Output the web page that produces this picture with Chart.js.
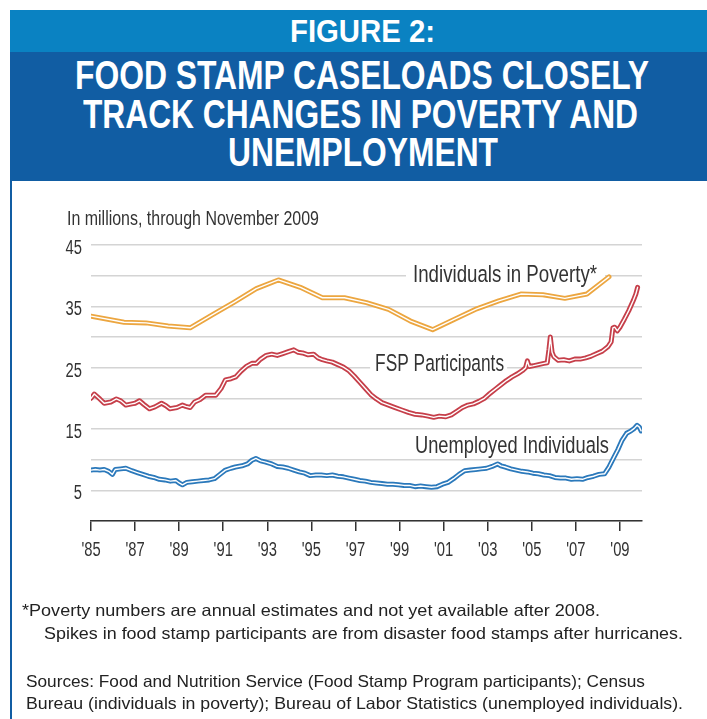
<!DOCTYPE html>
<html>
<head>
<meta charset="utf-8">
<script src="https://cdn.jsdelivr.net/npm/chart.js@4.4.1/dist/chart.umd.min.js"></script>
<style>
  html, body { margin: 0; padding: 0; background: #fff; }
  body { width: 707px; height: 719px; position: relative; overflow: hidden;
         font-family: 'Liberation Sans', Arial, sans-serif; }
  #chart { position: absolute; left: 0; top: 0; z-index: 1; }
  .band { position: absolute; left: 10px; width: 697px; z-index: 2; }
  #bandTop { top: 10px; height: 42px; background: #0a82c2; }
  #bandMain { top: 52px; height: 129px; background: #115da3; }
  #leftRule { position: absolute; left: 10px; top: 181px; width: 2px; height: 538px; background: #115da3; z-index: 2; }
  .fit { position: absolute; white-space: nowrap; line-height: 1; z-index: 3; transform-origin: 0 0; }
  .head { color: #fff; font-weight: bold; }
  .note { color: #222; }
  .sub { color: #333; }
</style>
</head>
<body>
<div id="bandTop" class="band"></div>
<div id="bandMain" class="band"></div>
<div id="leftRule"></div>

<div class="fit head" data-left="290" data-base="42" data-size="31" data-w="145">FIGURE 2:</div>
<div class="fit head" data-left="75" data-base="90" data-size="41" data-w="574">FOOD STAMP CASELOADS CLOSELY</div>
<div class="fit head" data-left="83" data-base="128.5" data-size="41" data-w="555">TRACK CHANGES IN POVERTY AND</div>
<div class="fit head" data-left="228" data-base="167" data-size="41" data-w="270">UNEMPLOYMENT</div>

<div class="fit sub" data-left="67" data-base="226" data-size="19.5" data-w="252">In millions, through November 2009</div>

<div class="fit note" data-left="22" data-base="616" data-size="16.5" data-w="578">*Poverty numbers are annual estimates and not yet available after 2008.</div>
<div class="fit note" data-left="44" data-base="639" data-size="16.5" data-w="639">Spikes in food stamp participants are from disaster food stamps after hurricanes.</div>
<div class="fit note" data-left="26" data-base="687" data-size="16.5" data-w="619">Sources: Food and Nutrition Service (Food Stamp Program participants); Census</div>
<div class="fit note" data-left="26" data-base="709" data-size="16.5" data-w="657">Bureau (individuals in poverty); Bureau of Labor Statistics (unemployed individuals).</div>

<canvas id="chart" width="707" height="719"></canvas>

<script>
// Individuals in poverty, annual estimates (millions), plotted at mid-year
const povertyYears  = [1985.0, 1986.5, 1987.5, 1988.5, 1989.5, 1990.5, 1991.5, 1992.5, 1993.5, 1994.5, 1995.5, 1996.5,
                       1997.5, 1998.5, 1999.5, 2000.5, 2001.5, 2002.5, 2003.5, 2004.5, 2005.5, 2006.5, 2007.5, 2008.5];
const povertyValues = [33.4, 32.4, 32.3, 31.8, 31.5, 33.6, 35.7, 37.9, 39.3, 38.1, 36.4, 36.4,
                       35.6, 34.5, 32.6, 31.2, 32.9, 34.6, 35.9, 37.0, 36.9, 36.3, 37.0, 39.8];

// Food Stamp Program participants (millions)
const fspYears = [
  1985.0, 1985.15, 1985.4, 1985.6, 1985.9, 1986.15, 1986.35, 1986.58, 1986.85, 1987.0, 1987.2, 1987.4, 1987.65,
  1987.9, 1988.2, 1988.4, 1988.58, 1988.9, 1989.15, 1989.3, 1989.5, 1989.7, 1989.95, 1990.2, 1990.45, 1990.66,
  1990.9, 1991.1, 1991.35, 1991.57, 1991.8, 1992.05, 1992.3, 1992.5, 1992.7, 1992.95, 1993.2, 1993.45, 1993.7,
  1993.95, 1994.2, 1994.4, 1994.6, 1994.85, 1995.1, 1995.3, 1995.5, 1995.7, 1995.95, 1996.2, 1996.45, 1996.7,
  1996.95, 1997.2, 1997.45, 1997.7, 1997.95, 1998.2, 1998.5, 1998.8, 1999.1, 1999.4, 1999.7, 2000.0, 2000.3,
  2000.55, 2000.8, 2001.1, 2001.35, 2001.6, 2001.85, 2002.1, 2002.35, 2002.6, 2002.85, 2003.1, 2003.35, 2003.6,
  2003.85, 2004.1, 2004.35, 2004.6, 2004.72, 2004.8, 2004.88, 2005.05, 2005.3, 2005.55, 2005.7, 2005.78, 2005.84,
  2005.92, 2006.0, 2006.2, 2006.45, 2006.7, 2006.95, 2007.2, 2007.45, 2007.7, 2007.95, 2008.2, 2008.45, 2008.6,
  2008.68, 2008.76, 2008.88, 2009.0, 2009.2, 2009.4, 2009.6, 2009.72, 2009.8
];
const fspValues = [
  20.0, 20.7, 19.9, 19.2, 19.4, 19.9, 19.6, 18.9, 19.1, 19.2, 19.6, 19.0, 18.3,
  18.6, 19.2, 18.8, 18.3, 18.5, 18.9, 18.7, 18.5, 19.4, 19.8, 20.5, 20.5, 20.5,
  21.6, 23.0, 23.2, 23.5, 24.4, 25.2, 25.7, 25.7, 26.4, 27.0, 27.2, 27.0, 27.3,
  27.6, 27.9, 27.5, 27.4, 27.1, 27.2, 26.6, 26.3, 26.1, 25.9, 25.5, 25.1, 24.5,
  23.6, 22.6, 21.6, 20.6, 19.9, 19.3, 18.9, 18.5, 18.1, 17.7, 17.4, 17.3, 17.1,
  16.9, 17.1, 17.0, 17.3, 17.9, 18.5, 18.9, 19.1, 19.5, 20.0, 20.8, 21.5, 22.2,
  22.9, 23.5, 24.0, 24.6, 25.0, 26.1, 25.2, 25.3, 25.5, 25.7, 25.8, 28.0, 30.0,
  27.5, 26.8, 26.2, 26.3, 26.1, 26.4, 26.4, 26.6, 26.9, 27.3, 27.7, 28.4, 29.2,
  31.5, 31.6, 31.0, 31.6, 32.9, 34.3, 35.9, 37.0, 38.1
];

// Unemployed individuals (millions)
const unemployedYears = [
  1985.0, 1985.2, 1985.4, 1985.6, 1985.8, 1985.97, 1986.1, 1986.35, 1986.58, 1986.85, 1987.1, 1987.35, 1987.6,
  1987.85, 1988.1, 1988.35, 1988.6, 1988.85, 1989.0, 1989.15, 1989.35, 1989.6, 1989.85, 1990.1, 1990.36, 1990.6,
  1990.85, 1991.1, 1991.35, 1991.55, 1991.85, 1992.1, 1992.3, 1992.48, 1992.7, 1992.93, 1993.2, 1993.45, 1993.7,
  1993.95, 1994.2, 1994.45, 1994.7, 1994.95, 1995.2, 1995.45, 1995.7, 1995.95, 1996.2, 1996.45, 1996.7, 1996.95,
  1997.2, 1997.45, 1997.7, 1997.95, 1998.2, 1998.45, 1998.7, 1998.95, 1999.2, 1999.45, 1999.7, 1999.95, 2000.2,
  2000.45, 2000.7, 2000.95, 2001.2, 2001.45, 2001.7, 2001.95, 2002.2, 2002.45, 2002.7, 2002.95, 2003.2, 2003.45,
  2003.6, 2003.8, 2004.05, 2004.3, 2004.55, 2004.8, 2005.05, 2005.3, 2005.55, 2005.8, 2006.05, 2006.3, 2006.55,
  2006.8, 2007.05, 2007.3, 2007.55, 2007.8, 2008.05, 2008.3, 2008.5, 2008.7, 2008.9, 2009.1, 2009.3, 2009.5,
  2009.65, 2009.78, 2009.88, 2009.96
];
const unemployedValues = [
  8.3, 8.4, 8.3, 8.4, 8.1, 7.6, 8.4, 8.5, 8.6, 8.2, 7.9, 7.6, 7.3,
  7.1, 6.8, 6.7, 6.5, 6.6, 6.2, 5.9, 6.3, 6.4, 6.5, 6.6, 6.7, 6.9,
  7.6, 8.3, 8.6, 8.8, 9.0, 9.3, 9.9, 10.2, 9.8, 9.6, 9.3, 8.9, 8.8,
  8.6, 8.3, 8.0, 7.8, 7.4, 7.5, 7.5, 7.4, 7.5, 7.3, 7.2, 7.0, 6.8,
  6.6, 6.5, 6.3, 6.2, 6.1, 6.0, 6.0, 5.9, 5.8, 5.8, 5.6, 5.7, 5.6,
  5.5, 5.6, 6.0, 6.3, 6.9, 7.6, 8.2, 8.3, 8.4, 8.5, 8.6, 8.9, 9.3,
  9.0, 8.8, 8.5, 8.3, 8.1, 8.0, 7.8, 7.7, 7.5, 7.4, 7.1, 7.0, 7.0,
  6.8, 6.9, 6.8, 7.1, 7.3, 7.6, 7.7, 8.8, 10.2, 11.6, 13.2, 14.3, 14.7,
  15.1, 15.6, 15.3, 14.7
];

// Axis ticks
const xTickYears  = [1985, 1987, 1989, 1991, 1993, 1995, 1997, 1999, 2001, 2003, 2005, 2007, 2009];
const xTickLabels = ["'85", "'87", "'89", "'91", "'93", "'95", "'97", "'99", "'01", "'03", "'05", "'07", "'09"];
const yLabelValues = [5, 15, 25, 35, 45];

const FONT = "'Liberation Sans', Arial, sans-serif";
const INK = '#333333';
const SQUEEZE = 0.72;   // horizontal compression for the condensed chart lettering

function points(xs, ys) { return xs.map((x, i) => ({ x, y: ys[i] })); }

const series = [
  { name: 'Individuals in Poverty', pts: points(povertyYears, povertyValues), color: '#eca640' },
  { name: 'FSP Participants', pts: points(fspYears, fspValues), color: '#c63f4a' },
  { name: 'Unemployed Individuals', pts: points(unemployedYears, unemployedValues), color: '#2b79bb' }
];

// each series is a broad coloured stroke with a thin white core on top
const datasets = [];
series.forEach(s => {
  datasets.push({ label: s.name, data: s.pts, borderColor: s.color, borderWidth: 5, order: 2 });
  datasets.push({ label: s.name + ' core', data: s.pts, borderColor: '#ffffff', borderWidth: 1.4, order: 1 });
});
datasets.forEach(d => Object.assign(d, {
  pointRadius: 0, pointHoverRadius: 0, tension: 0, fill: false,
  borderJoinStyle: 'round', borderCapStyle: 'round'
}));

function squeezedText(ctx, text, x, y, sx, align) {
  const w = ctx.measureText(text).width * sx;
  let left = x;
  if (align === 'center') left = x - w / 2;
  else if (align === 'right') left = x - w;
  ctx.save();
  ctx.translate(left, y);
  ctx.scale(sx, 1);
  ctx.textAlign = 'left';
  ctx.textBaseline = 'alphabetic';
  ctx.fillText(text, 0, 0);
  ctx.restore();
}

// condensed tick labels, placed through the chart's own scales
const condensedTicks = {
  id: 'condensedTicks',
  afterDraw(chart, args, opts) {
    const { ctx } = chart;
    const xs = chart.scales.x, ys = chart.scales.y;
    ctx.save();
    ctx.fillStyle = INK;
    ctx.font = opts.size + 'px ' + FONT;
    xTickYears.forEach((v, i) => {
      squeezedText(ctx, xTickLabels[i], xs.getPixelForValue(v), xs.top + opts.xBaseline, SQUEEZE, 'center');
    });
    yLabelValues.forEach(v => {
      squeezedText(ctx, String(v), ys.right - opts.yGap, ys.getPixelForValue(v) + opts.yShift, SQUEEZE, 'right');
    });
    ctx.restore();
  }
};

// in-chart series captions, with a white patch that breaks the gridline behind them
const seriesCaptions = {
  id: 'seriesCaptions',
  beforeDatasetsDraw(chart, args, opts) {
    const { ctx } = chart;
    const xs = chart.scales.x, ys = chart.scales.y;
    ctx.save();
    ctx.font = opts.size + 'px ' + FONT;
    opts.items.forEach(it => {
      const px = xs.getPixelForValue(it.x);
      const py = ys.getPixelForValue(it.y);
      const natural = ctx.measureText(it.text).width;
      if (it.mask) {
        ctx.fillStyle = '#ffffff';
        ctx.fillRect(px - it.padL, py - 20, it.width + it.padL + it.padR, 27);
      }
      ctx.fillStyle = INK;
      squeezedText(ctx, it.text, px, py, it.width / natural, 'left');
    });
    ctx.restore();
  }
};

new Chart(document.getElementById('chart'), {
  type: 'line',
  data: { datasets },
  plugins: [seriesCaptions, condensedTicks],
  options: {
    responsive: false,
    animation: false,
    devicePixelRatio: 1,
    layout: { padding: { left: 0, top: 245, right: 65, bottom: 158 } },
    plugins: {
      legend: { display: false },
      tooltip: { enabled: false },
      condensedTicks: { size: 20.5, xBaseline: 35, yGap: 9, yShift: 9 },
      seriesCaptions: {
        size: 24.5,
        items: [
          { text: 'Individuals in Poverty*', x: 1999.61, y: 39.0, width: 184, mask: true, padL: 7, padR: 8 },
          { text: 'FSP Participants', x: 1997.89, y: 24.45, width: 129, mask: true, padL: 5, padR: 3 },
          { text: 'Unemployed Individuals', x: 1999.7, y: 11.1, width: 194, mask: false, padL: 0, padR: 0 }
        ]
      }
    },
    scales: {
      x: {
        type: 'linear',
        min: 1985, max: 2010,
        afterFit(scale) { scale.height = 40; },
        afterBuildTicks(scale) { scale.ticks = xTickYears.map(v => ({ value: v })); },
        grid: { drawOnChartArea: false, drawTicks: true, tickLength: 10, color: INK, lineWidth: 1.5 },
        border: { display: true, color: INK, width: 1.5 },
        ticks: { display: false, autoSkip: false, maxRotation: 0 }
      },
      y: {
        min: 0, max: 45,
        afterFit(scale) { scale.width = 91; },
        grid: { drawTicks: false, color: '#d4d4d4', lineWidth: 1.5 },
        border: { display: false },
        ticks: { display: false, stepSize: 5 }
      }
    }
  }
});

// place the HTML text lines by baseline and squeeze them to their set widths
document.querySelectorAll('.fit').forEach(el => {
  const size = +el.dataset.size;
  el.style.fontSize = size + 'px';
  el.style.left = el.dataset.left + 'px';
  el.style.top = (+el.dataset.base - 0.8465 * size) + 'px';
  const natural = el.getBoundingClientRect().width;
  el.style.transform = 'scaleX(' + (+el.dataset.w / natural) + ')';
});
</script>
</body>
</html>
